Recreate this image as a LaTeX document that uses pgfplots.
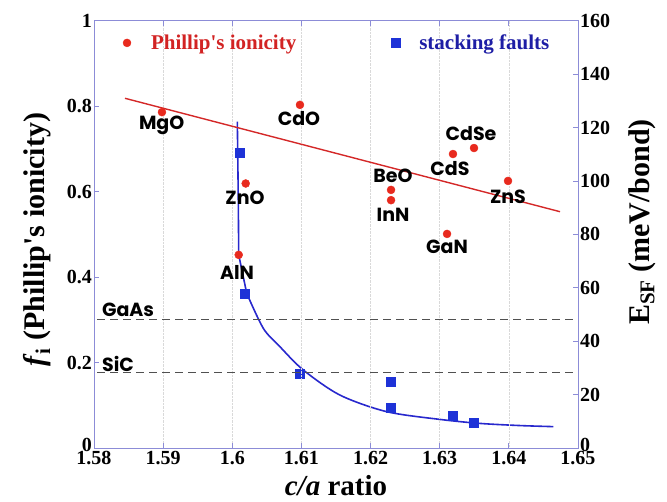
\documentclass[border=0pt]{standalone}
\usepackage{fontspec}
\setmainfont{Liberation Serif}
\newfontfamily\labfont{Poppins}
\usepackage{pgfplots}
\pgfplotsset{compat=1.18}
\pgfplotsset{
  mylegimg/.style={legend image code/.code={\path[draw=none,fill=none] (0pt,0pt) -- (32pt,0pt);\draw[mark repeat=2,mark phase=2,##1] plot coordinates {(0pt,0pt) (10pt,0pt) (20pt,0pt)};}}
}
\definecolor{reddot}{RGB}{232,42,30}
\definecolor{redline}{RGB}{212,40,40}
\definecolor{bluesq}{RGB}{30,50,215}
\definecolor{blueline}{RGB}{40,40,205}
\definecolor{framec}{RGB}{140,140,215}
\definecolor{legred}{RGB}{210,35,35}
\definecolor{legblue}{RGB}{30,30,165}
\definecolor{dashc}{RGB}{80,80,80}
\begin{document}
\begin{tikzpicture}
% ---------- right axis: stacking fault energy ----------
\begin{axis}[
  name=ax2,
  scale only axis, width=484pt, height=427.3pt,
  xmin=1.58, xmax=1.65, ymin=0, ymax=160,
  xtick=\empty,
  ytick={0,20,40,60,80,100,120,140,160},
  yticklabels={\raisebox{6pt}{0},20,40,60,80,100,120,140,160},
  ytick pos=right, tick align=inside,
  axis line style={framec, line width=0.8pt},
  tick style={framec, line width=0.8pt}, major tick length=5pt,
  ticklabel style={font=\fontsize{20}{20}\selectfont\bfseries, black},
  yticklabel style={inner sep=2pt},
  ylabel={E\textsubscript{SF} (meV/bond)},
  every axis y label/.style={at={(axis description cs:1.132,0.529)}, anchor=center, rotate=90, font=\fontsize{30}{30}\selectfont\bfseries},
]
\addplot[blueline, line width=1.6pt] coordinates {
 (1.60073,122.2) (1.60087,92.9) (1.60093,72.3) (1.60209,57.9)};
\addplot[blueline, line width=1.6pt, smooth, tension=0.5] coordinates {
 (1.60209,57.9) (1.60449,44.8)
 (1.60690,37.9) (1.61027,29.2) (1.61558,19.8) (1.62233,13.6)
 (1.63004,10.7) (1.63583,9.2) (1.64161,8.4) (1.64643,8.0)};
\addplot[only marks, mark=square*, mark size=4.5pt, color=bluesq] coordinates {
 (1.60102,110.6) (1.60184,57.9) (1.60979,27.7) (1.62296,24.7) (1.62296,15.0)
 (1.63192,12.0) (1.63496,9.6)};
\end{axis}
% ---------- left axis: ionicity ----------
\begin{axis}[
  name=ax1,
  scale only axis, width=484pt, height=427.3pt,
  xmin=1.58, xmax=1.65, ymin=0, ymax=1,
  xtick={1.58,1.59,1.6,1.61,1.62,1.63,1.64,1.65},
  xticklabels={1.58,1.59,1.6,1.61,1.62,1.63,1.64,1.65},
  ytick={0,0.2,0.4,0.6,0.8,1},
  yticklabels={\raisebox{6pt}{0},0.2,0.4,0.6,0.8,1},
  ytick pos=left, xtick pos=both, xticklabel pos=bottom, tick align=inside,
  axis line style={framec, line width=0.8pt},
  tick style={framec, line width=0.8pt}, major tick length=5pt,
  xmajorgrids, grid style={densely dotted, gray!30, line width=0.6pt},
  ticklabel style={font=\fontsize{20}{20}\selectfont\bfseries, black},
  yticklabel style={inner sep=2pt},
  xticklabel style={inner sep=3pt},
  xlabel={\textit{c/a} ratio},
  every axis x label/.style={at={(axis description cs:0.5,-0.089)}, anchor=center, font=\fontsize{29}{29}\selectfont\bfseries},
  ylabel={\textit{f}\textsubscript{i} (Phillip\textquotesingle s ionicity)},
  every axis y label/.style={at={(axis description cs:-0.118,0.487)}, anchor=center, rotate=90, font=\fontsize{30}{30}\selectfont\bfseries},
  legend style={draw=none, fill=none, at={(axis cs:1.58333,0.948)}, anchor=west,
    inner sep=0pt, outer sep=0pt, legend columns=2,
    font=\fontsize{21}{21}\selectfont\bfseries,
    /tikz/every even column/.append style={column sep=87pt}},
  legend cell align=left,
]
\addlegendimage{only marks, mark=*, mark size=4pt, color=reddot, mylegimg}
\addlegendentry{\textcolor{legred}{Phillip\textquotesingle s ionicity}}
\addlegendimage{only marks, mark=square*, mark size=4.5pt, color=bluesq, mylegimg}
\addlegendentry{\textcolor{legblue}{stacking faults}}
% reference lines
\addplot[forget plot, dashc, dash pattern=on 8pt off 5pt, line width=1.1pt] coordinates {(1.5805,0.30) (1.65,0.30)};
\addplot[forget plot, dashc, dash pattern=on 8pt off 5pt, line width=1.1pt] coordinates {(1.5805,0.176) (1.65,0.176)};
% linear fit
\addplot[forget plot, redline, line width=1.4pt] coordinates {(1.58448,0.8184) (1.64740,0.553)};
% ionicity points
\addplot[forget plot, only marks, mark=*, mark size=4pt, color=reddot] coordinates {
 (1.58983,0.786) (1.60979,0.803) (1.60194,0.619) (1.60093,0.452) (1.62296,0.604)
 (1.62296,0.580) (1.63106,0.501) (1.63192,0.688) (1.63496,0.702) (1.63988,0.625)};
% material labels
\begin{scope}[every node/.style={font=\labfont\bfseries\fontsize{19}{19}\selectfont, black, inner sep=0pt}]
\node at (axis cs:1.58979,0.754) {MgO};
\node at (axis cs:1.60965,0.770) {CdO};
\node at (axis cs:1.60184,0.585) {ZnO};
\node at (axis cs:1.60068,0.410) {AlN};
\node at (axis cs:1.62325,0.637) {BeO};
\node at (axis cs:1.62325,0.545) {InN};
\node at (axis cs:1.63149,0.653) {CdS};
\node at (axis cs:1.63453,0.737) {CdSe};
\node at (axis cs:1.63988,0.587) {ZnS};
\node at (axis cs:1.63106,0.470) {GaN};
\node at (axis cs:1.58492,0.323) {GaAs};
\node at (axis cs:1.58347,0.197) {SiC};
\end{scope}
\end{axis}
\pgfresetboundingbox
\path[use as bounding box] ([shift={(-94pt,-54pt)}]ax1.south west) rectangle ([shift={(573pt,448pt)}]ax1.south west);
\end{tikzpicture}
\end{document}
